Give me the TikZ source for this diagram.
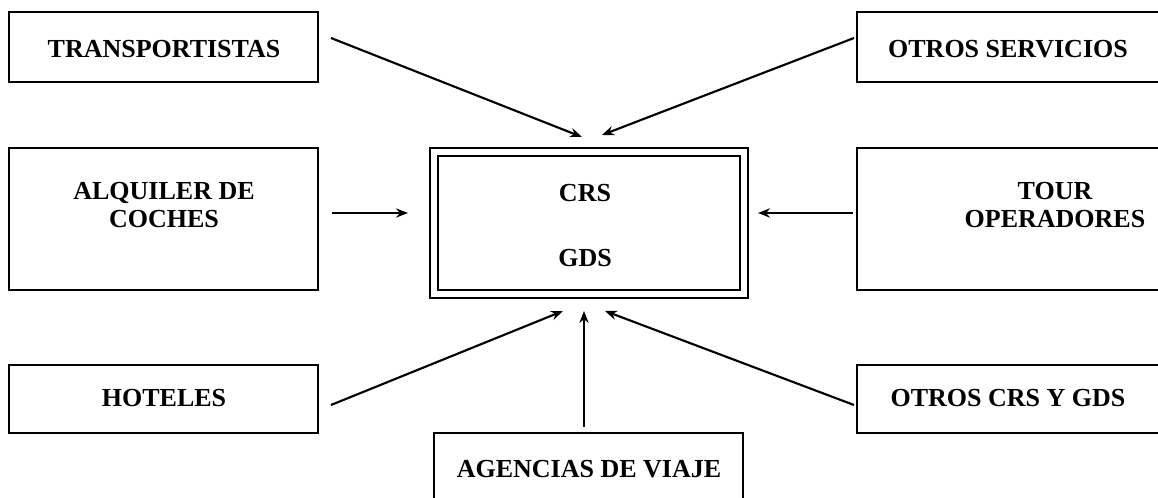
\documentclass[tikz,border=0pt]{standalone}
\usepackage{fontspec}
\setmainfont{Liberation Serif}
\usetikzlibrary{arrows.meta}
\begin{document}
\begin{tikzpicture}[x=0.75pt,y=-0.75pt,
  box/.style={draw=black,line width=2pt,inner sep=0pt,outer sep=0pt,anchor=north west},
  lbl/.style={font=\bfseries\fontsize{19.5pt}{21pt}\selectfont,align=center,inner sep=0pt},
  arr/.style={line width=1.6pt,-{Stealth[length=9pt,width=7pt]}},
  arrthin/.style={line width=1.1pt,-{Stealth[length=9pt,width=7pt]}}]
\useasboundingbox (0,0) rectangle (1158,498);
\clip (0,0) rectangle (1158,498);
% boxes
\node[box,minimum width=231.75pt,minimum height=52.5pt] (trans) at (9,12) {};
\node[box,minimum width=231.75pt,minimum height=106.5pt] (alq) at (9,148) {};
\node[box,minimum width=231.75pt,minimum height=51pt] (hot) at (9,365) {};
\node[box,minimum width=238.5pt,minimum height=52.5pt] (otserv) at (857,12) {};
\node[box,minimum width=238.5pt,minimum height=106.5pt] (tour) at (857,148) {};
\node[box,minimum width=238.5pt,minimum height=51pt] (otcrs) at (857,365) {};
\node[box,minimum width=231.75pt,minimum height=80pt] (agen) at (434,433) {};
\node[draw=black,line width=1.5pt,double,double distance=4.5pt,inner sep=0pt,outer sep=0pt,anchor=north west,
      minimum width=232.5pt,minimum height=106.5pt] (crs) at (434,152) {};
% texts
\node[lbl] (trans-t) at (164,49.5) {TRANSPORTISTAS};
\node[lbl] (alq-t) at (164,205.5) {ALQUILER DE\\COCHES};
\node[lbl] (hot-t) at (164,398.5) {HOTELES};
\node[lbl] (otserv-t) at (1008,49.5) {OTROS SERVICIOS};
\node[lbl] (tour-t) at (1055,205.5) {TOUR\\OPERADORES};
\node[lbl] (otcrs-t) at (1008,398.5) {OTROS CRS Y GDS};
\node[lbl] (agen-t) at (589,469.5) {AGENCIAS DE VIAJE};
\node[lbl] (crs-t) at (585,226) {CRS\\[27.75pt]GDS};
% arrow tips near the central box
\coordinate (tipTL) at (582,137);
\coordinate (tipTR) at (602,135);
\coordinate (tipL) at (408,213);
\coordinate (tipR) at (758,213);
\coordinate (tipBL) at (563,311);
\coordinate (tipB) at (584,311);
\coordinate (tipBR) at (605,311);
% connectors
\draw[arr] ([shift={(13,-9)}]trans.east) -- (tipTL);
\draw[arr] ([shift={(-3,-9)}]otserv.west) -- (tipTR);
\draw[arrthin] ([shift={(14,-6)}]alq.east) -- (tipL);
\draw[arr] ([shift={(-4,-6)}]tour.west) -- (tipR);
\draw[arr] ([shift={(13,6)}]hot.east) -- (tipBL);
\draw[arr] ([shift={(-3,6)}]otcrs.west) -- (tipBR);
\draw[arrthin] (agen.north -| tipB) ++(0,-6) -- (tipB);
\end{tikzpicture}
\end{document}
